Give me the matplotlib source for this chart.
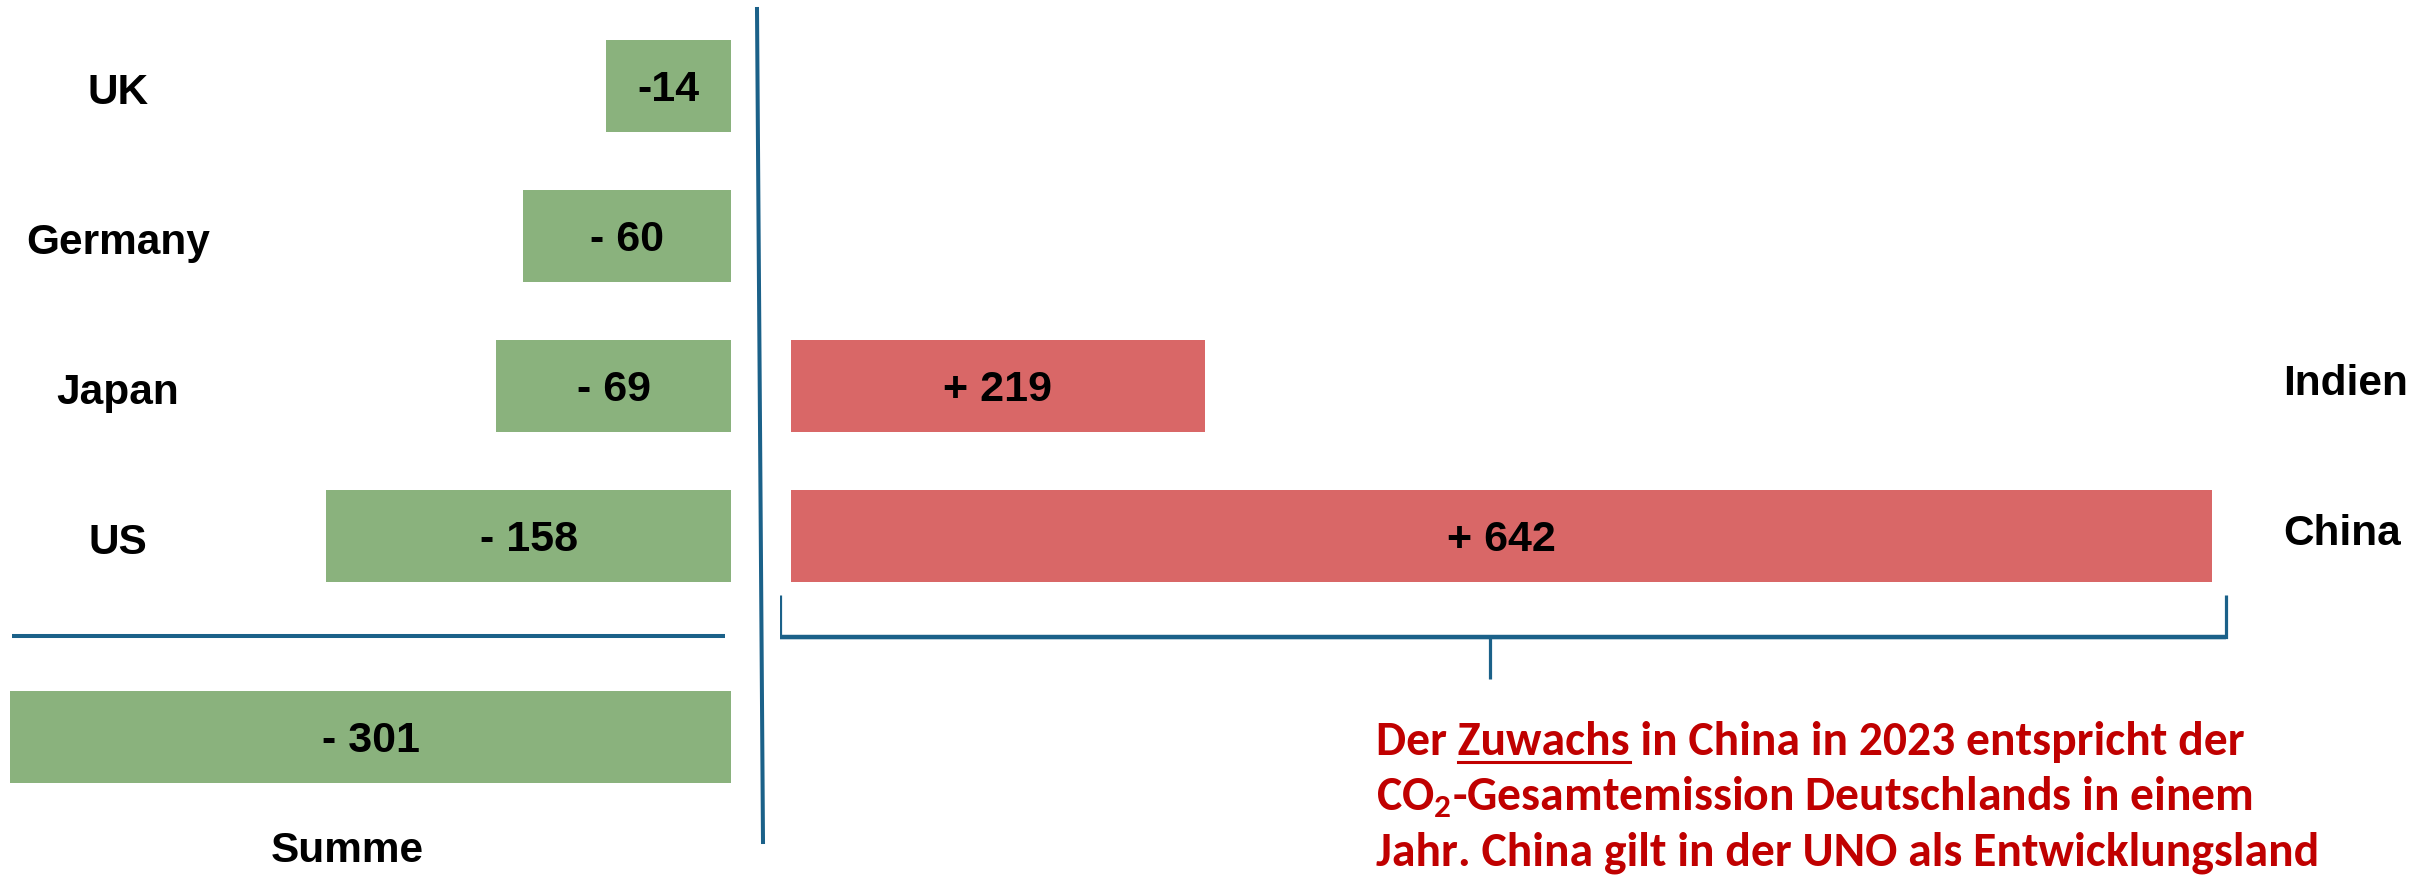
import numpy as np
import matplotlib
matplotlib.use("Agg")
import matplotlib.pyplot as plt
from matplotlib.lines import Line2D

# ---------------- data ----------------
left_countries = ["UK", "Germany", "Japan", "US"]
left_value_labels = ["-14", "- 60", "- 69", "- 158"]
# bar lengths as drawn in the source graphic (the original is not to scale)
left_bar_lengths = [52, 87, 98, 169]
sum_name = "Summe"
sum_value_label = "- 301"
sum_bar_length = 301
right_countries = ["Indien", "China"]
right_value_labels = ["+ 219", "+ 642"]
right_bar_lengths = [187, 642]
right_rows = [2, 3]          # Indien beside Japan, China beside US
note_lines = [
    "Der Zuwachs in China in 2023 entspricht der",
    "CO$_\\mathregular{2}$-Gesamtemission Deutschlands in einem",
    "Jahr. China gilt in der UNO als Entwicklungsland",
]
underlined_word = "Zuwachs"

# ---------------- style ----------------
GREEN = "#8AB27D"
RED = "#D96767"
LINE = "#1B6189"
NOTE_RED = "#C00000"
W, H, DPI = 24.32, 8.77, 100
plt.rcParams["font.family"] = ["Liberation Sans", "DejaVu Sans"]

fig = plt.figure(figsize=(W, H), dpi=DPI)
PXW, PXH = W * DPI, H * DPI

row_px = 150.0            # pixels per row unit
first_row_px = 86.0       # centre of first row from top
ylim = ((PXH - first_row_px) / row_px, -first_row_px / row_px)
bar_h = 0.607
sum_row = 4.34

# left axes: value 0 at px 731
lscale = 2.3953
ax_l = fig.add_axes([0, 0, 731 / PXW, 1])
ax_l.set_xlim(-731 / lscale, 0)
ax_l.set_ylim(*ylim)
ax_l.axis("off")

rows = np.arange(len(left_countries))
ax_l.barh(rows, [-v for v in left_bar_lengths], height=bar_h, color=GREEN, left=0)
ax_l.barh([sum_row], [-sum_bar_length], height=bar_h, color=GREEN, left=0)

fs_lab = 30.5
fs_val = 31
for r, v, lab, name in zip(rows, left_bar_lengths, left_value_labels, left_countries):
    ax_l.text(-v / 2, r, lab, ha="center", va="center_baseline",
              fontsize=fs_val, fontweight="bold", color="black")
    ax_l.text(-256, r + 0.02, name, ha="center", va="center_baseline",
              fontsize=fs_lab, fontweight="bold", color="black")
ax_l.text(-sum_bar_length / 2, sum_row, sum_value_label, ha="center",
          va="center_baseline", fontsize=fs_val, fontweight="bold")
ax_l.text(-160, sum_row + 0.73, sum_name, ha="center", va="center_baseline",
          fontsize=fs_lab, fontweight="bold")

# separator line between US and Summe
sep_y = (rows[-1] + sum_row) / 2
ax_l.plot([-300, -2.5], [sep_y, sep_y], color=LINE, lw=2.9, solid_capstyle="butt")

# right axes: value 0 at px 791
rscale = 2.2134
r0 = 780
ax_r = fig.add_axes([r0 / PXW, 0, (PXW - r0) / PXW, 1])
ax_r.set_xlim(-(791 - r0) / rscale, (PXW - 791) / rscale)
ax_r.set_ylim(*ylim)
ax_r.axis("off")
ax_r.barh(right_rows, right_bar_lengths, height=bar_h, color=RED)
for r, v, lab, name in zip(right_rows, right_bar_lengths, right_value_labels, right_countries):
    ax_r.text(v / 2, r, lab, ha="center", va="center_baseline",
              fontsize=fs_val, fontweight="bold")
    ax_r.text(674, r - 0.04, name, ha="left", va="center_baseline",
              fontsize=fs_lab, fontweight="bold")

# bracket under China bar
china_row = right_rows[-1]
xl, xr = -5, 648.3
xm = (xl + xr) / 2 - 6
yt = china_row + bar_h / 2 + 0.09
yb = yt + 0.28
ytick = yb + 0.28
ax_r.plot([xl, xl, xr, xr], [yt, yb, yb, yt], color=LINE, lw=2.3,
          solid_joinstyle="miter", solid_capstyle="butt")
ax_r.plot([xl, xr], [yb, yb], color=LINE, lw=3.2, solid_capstyle="butt")
ax_r.plot([xm, xm], [yb, ytick], color=LINE, lw=2.3, solid_capstyle="butt")

# vertical divider
fig.add_artist(Line2D([757 / PXW, 763 / PXW], [1 - 9 / PXH, 1 - 842 / PXH],
                      transform=fig.transFigure, color=LINE, lw=2.9))

# ---------------- annotation ----------------
fam = ["Carlito", "DejaVu Sans"]
renderer = fig.canvas.get_renderer()
probe = fig.text(0, 0, note_lines[2], fontsize=30, fontweight="bold", family=fam)
w30 = probe.get_window_extent(renderer).width
probe.remove()
note_fs = 30 * 940 / w30
note_x = 1376 / PXW
baselines = [755, 810, 865]
for line, b in zip(note_lines, baselines):
    fig.text(note_x, 1 - b / PXH, line, fontsize=note_fs, fontweight="bold",
             family=fam, color=NOTE_RED, ha="left", va="baseline")

# underline the word
pre = note_lines[0].split(underlined_word)[0] + underlined_word
t1 = fig.text(0, 0, pre, fontsize=note_fs, fontweight="bold", family=fam)
t2 = fig.text(0, 0, underlined_word, fontsize=note_fs, fontweight="bold", family=fam)
wpre = t1.get_window_extent(renderer).width
wword = t2.get_window_extent(renderer).width
t1.remove(); t2.remove()
ux1 = 1376 + wpre
ux0 = ux1 - wword
uy = baselines[0] + 7
fig.add_artist(Line2D([ux0 / PXW, ux1 / PXW], [1 - uy / PXH, 1 - uy / PXH],
                      transform=fig.transFigure, color=NOTE_RED, lw=2.2))

fig.savefig("out.png", dpi=DPI, facecolor="white")
